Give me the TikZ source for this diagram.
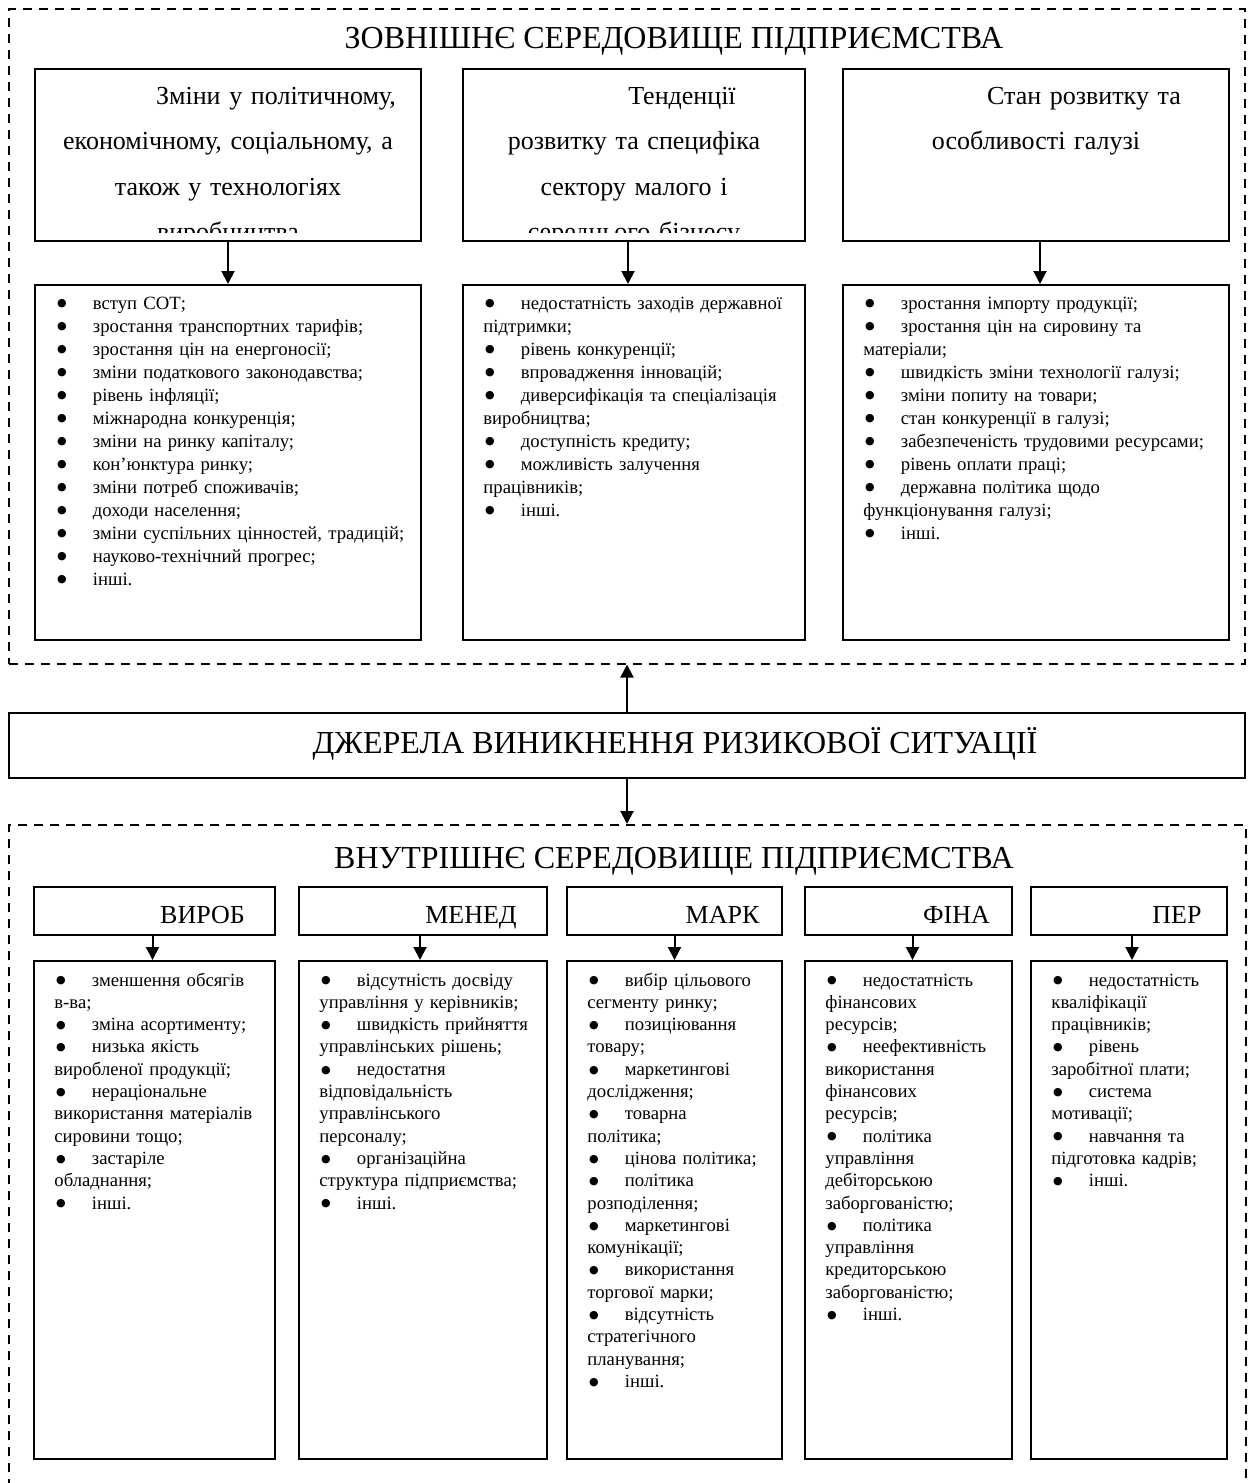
\documentclass[tikz,border=0pt]{standalone}
\usepackage{fontspec}
\setmainfont{Liberation Serif}
\newfontfamily\dotfont{DejaVu Sans}
\usetikzlibrary{arrows.meta,positioning}

\newcommand{\firstindent}{\hspace*{48pt}}
\newcommand{\bul}{\makebox[18.75pt][l]{\hspace{0.8pt}\raisebox{1.1pt}{\fontsize{5.5}{0}\selectfont\dotfont ●}}}

\begin{document}
\begin{tikzpicture}[
    x=0.5pt, y=-0.5pt,
    envframe/.style={draw, dash pattern=on 4.5pt off 3.5pt, line width=0.75pt, inner sep=0pt, anchor=north west},
    block/.style={draw, line width=1pt, inner sep=0pt, anchor=north west},
    heading/.style={font=\fontsize{16}{19}\selectfont, inner sep=0pt, anchor=base},
    area/.style={block, font=\fontsize{13}{16}\selectfont, minimum height=24pt, text height=12pt, text depth=0pt},
    causetext/.style={font=\fontsize{13}{22.75}\selectfont, align=center, inner sep=0pt, anchor=base},
    factorlist/.style={font=\fontsize{9.35}{11.5}\selectfont, text width=220pt, align=left, inner sep=0pt, anchor=base west},
    smalllist/.style={factorlist, font=\fontsize{9.35}{11.15}\selectfont},
    arrow/.style={-{Triangle[length=6.5pt, width=6.5pt]}, line width=1pt}
  ]
  \useasboundingbox (0,0) rectangle (1249,1483);
  \clip (0,0) rectangle (1249,1483);

  \node[envframe, minimum width=618pt, minimum height=327.5pt] (outer) at (8,8) {};
  \node[heading] (outerTitle) at (626,48) {\firstindent ЗОВНІШНЄ СЕРЕДОВИЩЕ ПІДПРИЄМСТВА};

  \node[block, minimum width=193pt, minimum height=86pt] (politics) at (34,68) {};
  \node[block, minimum width=171pt, minimum height=86pt] (smallbiz) at (462,68) {};
  \node[block, minimum width=193pt, minimum height=86pt] (industry) at (842,68) {};
  \begin{scope}
    \clip (politics.north west) rectangle ([yshift=5pt]industry.south east);
    \node[causetext, text width=183pt] (politicsText) at ([yshift=-18pt]politics.north)
      {\firstindent Зміни у політичному,\\ економічному, соціальному, а\\ також у технологіях\\ виробництва};
    \node[causetext, text width=165pt] (smallbizText) at ([yshift=-18pt]smallbiz.north)
      {\firstindent Тенденції\\ розвитку та специфіка\\ сектору малого і\\ середнього бізнесу};
    \node[causetext, text width=183pt] (industryText) at ([yshift=-18pt]industry.north)
      {\firstindent Стан розвитку та\\ особливості галузі};
  \end{scope}

  \node[block, below=21pt of politics, minimum width=193pt, minimum height=177.5pt] (politicsList) {};
  \node[block, below=21pt of smallbiz, minimum width=171pt, minimum height=177.5pt] (smallbizList) {};
  \node[block, below=21pt of industry, minimum width=193pt, minimum height=177.5pt] (industryList) {};

  \node[factorlist] (politicsItems) at ([shift={(10.5pt,-12.5pt)}]politicsList.north west)
    {\bul вступ СОТ;\\
     \bul зростання транспортних тарифів;\\
     \bul зростання цін на енергоносії;\\
     \bul зміни податкового законодавства;\\
     \bul рівень інфляції;\\
     \bul міжнародна конкуренція;\\
     \bul зміни на ринку капіталу;\\
     \bul кон’юнктура ринку;\\
     \bul зміни потреб споживачів;\\
     \bul доходи населення;\\
     \bul зміни суспільних цінностей, традицій;\\
     \bul науково-технічний прогрес;\\
     \bul інші.};
  \node[factorlist] (smallbizItems) at ([shift={(10.5pt,-12.5pt)}]smallbizList.north west)
    {\bul недостатність заходів державної\\
     підтримки;\\
     \bul рівень конкуренції;\\
     \bul впровадження інновацій;\\
     \bul диверсифікація та спеціалізація\\
     виробництва;\\
     \bul доступність кредиту;\\
     \bul можливість залучення\\
     працівників;\\
     \bul інші.};
  \node[factorlist] (industryItems) at ([shift={(10.5pt,-12.5pt)}]industryList.north west)
    {\bul зростання імпорту продукції;\\
     \bul зростання цін на сировину та\\
     матеріали;\\
     \bul швидкість зміни технології галузі;\\
     \bul зміни попиту на товари;\\
     \bul стан конкуренції в галузі;\\
     \bul забезпеченість трудовими ресурсами;\\
     \bul рівень оплати праці;\\
     \bul державна політика щодо\\
     функціонування галузі;\\
     \bul інші.};

  \node[block, minimum width=618pt, minimum height=32.5pt, font=\fontsize{16}{19}\selectfont,
        text height=11pt, text depth=3.5pt] (sources) at (8,712)
    {\firstindent ДЖЕРЕЛА ВИНИКНЕННЯ РИЗИКОВОЇ СИТУАЦІЇ};

  \node[envframe, minimum width=618.5pt, minimum height=340pt] (inner) at (8,824) {};
  \node[heading] (innerTitle) at (626,868) {\firstindent ВНУТРІШНЄ СЕРЕДОВИЩЕ ПІДПРИЄМСТВА};

  \node[area, minimum width=120.5pt] (prod) at (33,886) {\firstindent ВИРОБ};
  \node[area, minimum width=124pt] (mgmt) at (298,886) {\firstindent МЕНЕД};
  \node[area, minimum width=107.5pt] (mkt) at (566,886) {\firstindent МАРК};
  \node[area, minimum width=103.5pt] (fin) at (804,886) {\firstindent ФІНА};
  \node[area, minimum width=98pt] (staff) at (1030,886) {\firstindent ПЕР};

  \node[block, below=12pt of prod, minimum width=120.5pt, minimum height=249pt] (prodList) {};
  \node[block, below=12pt of mgmt, minimum width=124pt, minimum height=249pt] (mgmtList) {};
  \node[block, below=12pt of mkt, minimum width=107.5pt, minimum height=249pt] (mktList) {};
  \node[block, below=12pt of fin, minimum width=103.5pt, minimum height=249pt] (finList) {};
  \node[block, below=12pt of staff, minimum width=98pt, minimum height=249pt] (staffList) {};

  \node[smalllist] (prodItems) at ([shift={(10.5pt,-13pt)}]prodList.north west)
    {\bul зменшення обсягів\\
     в-ва;\\
     \bul зміна асортименту;\\
     \bul низька якість\\
     виробленої продукції;\\
     \bul нераціональне\\
     використання матеріалів\\
     сировини тощо;\\
     \bul застаріле\\
     обладнання;\\
     \bul інші.};
  \node[smalllist] (mgmtItems) at ([shift={(10.5pt,-13pt)}]mgmtList.north west)
    {\bul відсутність досвіду\\
     управління у керівників;\\
     \bul швидкість прийняття\\
     управлінських рішень;\\
     \bul недостатня\\
     відповідальність\\
     управлінського\\
     персоналу;\\
     \bul організаційна\\
     структура підприємства;\\
     \bul інші.};
  \node[smalllist] (mktItems) at ([shift={(10.5pt,-13pt)}]mktList.north west)
    {\bul вибір цільового\\
     сегменту ринку;\\
     \bul позиціювання\\
     товару;\\
     \bul маркетингові\\
     дослідження;\\
     \bul товарна\\
     політика;\\
     \bul цінова політика;\\
     \bul політика\\
     розподілення;\\
     \bul маркетингові\\
     комунікації;\\
     \bul використання\\
     торгової марки;\\
     \bul відсутність\\
     стратегічного\\
     планування;\\
     \bul інші.};
  \node[smalllist] (finItems) at ([shift={(10.5pt,-13pt)}]finList.north west)
    {\bul недостатність\\
     фінансових\\
     ресурсів;\\
     \bul неефективність\\
     використання\\
     фінансових\\
     ресурсів;\\
     \bul політика\\
     управління\\
     дебіторською\\
     заборгованістю;\\
     \bul політика\\
     управління\\
     кредиторською\\
     заборгованістю;\\
     \bul інші.};
  \node[smalllist] (staffItems) at ([shift={(10.5pt,-13pt)}]staffList.north west)
    {\bul недостатність\\
     кваліфікації\\
     працівників;\\
     \bul рівень\\
     заробітної плати;\\
     \bul система\\
     мотивації;\\
     \bul навчання та\\
     підготовка кадрів;\\
     \bul інші.};

  \draw[arrow] (politics) -- (politicsList);
  \draw[arrow] ([xshift=-3pt]smallbiz.south) -- ([xshift=-3pt]smallbizList.north);
  \draw[arrow] ([xshift=2pt]industry.south) -- ([xshift=2pt]industryList.north);
  \draw[arrow] (sources.north) -- (sources.north |- outer.south);
  \draw[arrow] (sources.south) -- (sources.south |- inner.north);
  \draw[arrow] ([xshift=-1pt]prod.south) -- ([xshift=-1pt]prodList.north);
  \draw[arrow] ([xshift=-1.5pt]mgmt.south) -- ([xshift=-1.5pt]mgmtList.north);
  \draw[arrow] (mkt) -- (mktList);
  \draw[arrow] ([xshift=2pt]fin.south) -- ([xshift=2pt]finList.north);
  \draw[arrow] ([xshift=1.5pt]staff.south) -- ([xshift=1.5pt]staffList.north);
\end{tikzpicture}
\end{document}
